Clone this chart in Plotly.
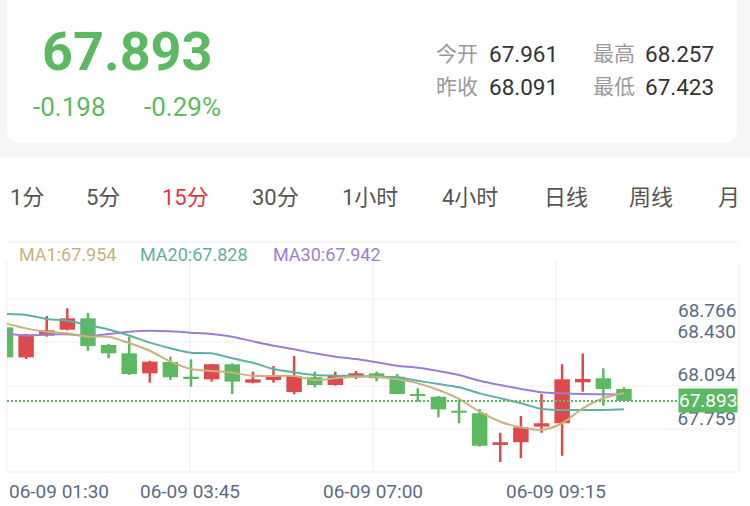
import plotly.graph_objects as go

# ---------------- data ----------------
date = "06-09"
times = ["01:30", "01:45", "02:00", "02:15", "02:30", "02:45", "03:00", "03:15",
         "03:30", "03:45", "04:00", "04:15", "04:30", "04:45", "06:00", "06:15",
         "06:30", "06:45", "07:00", "07:15", "07:30", "07:45", "08:00", "08:15",
         "08:30", "08:45", "09:00", "09:15", "09:30", "09:45", "10:00"]

opens = [68.459, 68.228, 68.395, 68.441, 68.528, 68.323, 68.259, 68.105, 68.192, 68.079,
         68.059, 68.175, 68.033, 68.054, 67.961, 68.075, 68.015, 68.075, 68.105, 68.079,
         67.946, 67.925, 67.818, 67.798, 67.554, 67.575, 67.695, 67.721, 68.036, 68.067,
         67.985]
highs = [68.469, 68.408, 68.546, 68.605, 68.571, 68.331, 68.387, 68.202, 68.233, 68.213,
         68.177, 68.182, 68.118, 68.161, 68.238, 68.118, 68.118, 68.123, 68.118, 68.100,
         67.990, 67.931, 67.905, 67.831, 67.648, 67.777, 67.946, 68.175, 68.257, 68.144,
         67.998]
lows = [68.219, 68.215, 68.387, 68.436, 68.279, 68.221, 68.092, 68.033, 68.054, 68.002,
        68.041, 67.946, 68.028, 68.033, 67.944, 67.998, 68.010, 68.062, 68.044, 67.944,
        67.887, 67.767, 67.721, 67.541, 67.423, 67.452, 67.648, 67.471, 67.964, 67.856,
        67.893]
closes = [68.228, 68.405, 68.436, 68.528, 68.315, 68.259, 68.100, 68.195, 68.075, 68.064,
          68.175, 68.041, 68.059, 68.091, 68.085, 68.015, 68.092, 68.105, 68.067, 67.946,
          67.931, 67.828, 67.802, 67.548, 67.575, 67.690, 67.721, 68.059, 68.062, 67.985,
          67.893]

ma1 = [68.490, 68.451, 68.425, 68.413, 68.387, 68.387, 68.338, 68.279, 68.195, 68.138,
       68.123, 68.110, 68.085, 68.085, 68.085, 68.054, 68.067, 68.079, 68.079, 68.059,
       68.028, 67.977, 67.908, 67.810, 67.733, 67.690, 67.669, 67.721, 67.836, 67.913,
       67.954]
ma20 = [68.561, 68.554, 68.523, 68.510, 68.477, 68.442, 68.396, 68.341, 68.298, 68.264,
        68.259, 68.221, 68.187, 68.138, 68.113, 68.092, 68.087, 68.085, 68.079, 68.075,
        68.048, 68.023, 67.998, 67.951, 67.913, 67.875, 67.831, 67.823, 67.823, 67.823,
        67.828]
ma30 = [68.413, 68.395, 68.405, 68.405, 68.392, 68.408, 68.425, 68.433, 68.428, 68.418,
        68.408, 68.387, 68.351, 68.318, 68.290, 68.259, 68.233, 68.215, 68.190, 68.164,
        68.148, 68.123, 68.092, 68.048, 68.015, 67.985, 67.959, 67.951, 67.946, 67.944,
        67.942]

y_ticks = [67.423, 67.759, 68.094, 68.430]
y_top_label = "68.766"
x_label_idx = [0, 9, 18, 27]

last_price = "67.893"
change = "-0.198"
change_pct = "-0.29%"
stats = [("今开", "67.961"), ("最高", "68.257"), ("昨收", "68.091"), ("最低", "67.423")]
tabs = ["1分", "5分", "15分", "30分", "1小时", "4小时", "日线", "周线", "月"]
active_tab = "15分"
legend_items = [("MA1", ma1[-1]), ("MA20", ma20[-1]), ("MA30", ma30[-1])]

# ---------------- styles ----------------
RED = "#dc4a4c"
GREEN = "#5cb962"
C_MA1 = "#c8b27e"
C_MA20 = "#5fb1a1"
C_MA30 = "#9c7fd0"
AXIS_TXT = "#5b6b86"
GRID = "#efefef"
FONT = "Roboto, 'Noto Sans CJK SC', sans-serif"

W, H = 750, 506
L, R, T, B = 7, 739, 261, 472


def px(x):
    return (x - L) / (R - L)


def py(y):
    return (B - y) / (B - T)


fig = go.Figure()

xs = list(range(len(opens)))
for color, is_up in ((RED, True), (GREEN, False)):
    idx = [i for i in xs if (closes[i] >= opens[i]) == is_up]
    wx, wy = [], []
    for i in idx:
        wx += [i, i, None]
        wy += [lows[i], highs[i], None]
    fig.add_trace(go.Scatter(x=wx, y=wy, mode="lines",
                             line=dict(color=color, width=2.5), hoverinfo="skip"))
    fig.add_trace(go.Bar(x=idx,
                         base=[min(opens[i], closes[i]) for i in idx],
                         y=[abs(closes[i] - opens[i]) for i in idx],
                         width=0.75, marker=dict(color=color, line=dict(width=0))))

for vals, col in ((ma30, C_MA30), (ma20, C_MA20), (ma1, C_MA1)):
    fig.add_trace(go.Scatter(x=xs, y=vals, mode="lines",
                             line=dict(color=col, width=2, shape="spline", smoothing=0.8),
                             hoverinfo="skip"))

shapes = []
# page background bands
shapes.append(dict(type="rect", xref="paper", yref="paper", x0=px(-5), x1=px(760),
                   y0=py(157), y1=py(-5), fillcolor="#f5f5f5", line_width=0, layer="below"))
x0c, x1c, yb, yt = px(7), px(737), py(143), py(-20)
rx, ry = 14 / (R - L), 14 / (B - T)
card = (f"M {x0c},{yt} L {x0c},{yb + ry} Q {x0c},{yb} {x0c + rx},{yb} "
        f"L {x1c - rx},{yb} Q {x1c},{yb} {x1c},{yb + ry} L {x1c},{yt} Z")
shapes.append(dict(type="path", xref="paper", yref="paper", path=card,
                   fillcolor="white", line_width=0, layer="below"))
# separator
shapes.append(dict(type="line", xref="paper", yref="paper", x0=px(7), x1=px(738),
                   y0=py(242), y1=py(242), line=dict(color="#f0f0f0", width=1.5), layer="below"))
# vertical grid
for k in range(5):
    shapes.append(dict(type="line", xref="x domain", yref="y domain", x0=k / 4, x1=k / 4,
                       y0=0, y1=1, line=dict(color=GRID, width=1), layer="below"))
# horizontal grid
for gy in (299, 342, 386, 429, 472):
    shapes.append(dict(type="line", xref="x domain", yref="y domain", x0=0, x1=1,
                       y0=py(gy), y1=py(gy), line=dict(color=GRID, width=1), layer="below"))
# last price dotted line
shapes.append(dict(type="line", xref="x domain", yref="y", x0=0, x1=px(680),
                   y0=float(last_price), y1=float(last_price),
                   line=dict(color=GREEN, width=2, dash="2px,2px")))

ann = []


def text(x, y, s, size, color, anchor="left", bold=False):
    ann.append(dict(x=px(x), y=py(y), xref="paper", yref="paper", text=(f"<b>{s}</b>" if bold else s),
                    showarrow=False, xanchor=anchor, yanchor="middle",
                    font=dict(family=FONT, size=size, color=color)))


# header
text(128, 51, last_price, 54, GREEN, "center", bold=True)
text(31, 107, change, 26, GREEN)
text(142, 107, change_pct, 26, GREEN)
pos = [(434, 487, 54), (591, 643, 54), (434, 487, 87), (591, 643, 87)]
for (lab, val), (lx, vx, yy) in zip(stats, pos):
    text(lx, yy, lab, 21, "#9a9a9a")
    text(vx, yy, val, 22.5, "#333333")

# tabs
tab_x = [8, 84, 160, 250, 340, 440, 542, 627, 716]
for t, tx in zip(tabs, tab_x):
    text(tx, 197, t, 22, "#e0383e" if t == active_tab else "#555555")

# legend
for (name, v), lx, col in zip(legend_items, (17, 138, 271), (C_MA1, C_MA20, C_MA30)):
    text(lx, 254, f"{name}:{v:.3f}", 18, col)

# top y label (clamped inside)
ann.append(dict(x=1, y=py(310), xref="paper", yref="paper", text=y_top_label, showarrow=False,
                xanchor="right", yanchor="middle", xshift=-1,
                font=dict(family=FONT, size=19, color=AXIS_TXT)))

# x labels
for k, i in enumerate(x_label_idx):
    ann.append(dict(x=k / 4, y=py(491), xref="x domain", yref="paper",
                    text=f"{date} {times[i]}", showarrow=False,
                    xanchor="left" if k == 0 else "center", yanchor="middle",
                    font=dict(family=FONT, size=19, color=AXIS_TXT)))

# price tag
ann.append(dict(x=1, y=float(last_price), xref="paper", yref="y", text=last_price,
                showarrow=False, xanchor="right", yanchor="middle", xshift=-1,
                bgcolor=GREEN, borderpad=0, font=dict(family=FONT, size=19, color="white")))

fig.update_layout(
    width=W, height=H,
    margin=dict(l=L, r=W - R, t=T, b=H - B, pad=0),
    paper_bgcolor="white", plot_bgcolor="white",
    barmode="overlay", showlegend=False,
    xaxis=dict(range=[0.073, 35.58], showgrid=False, zeroline=False, showticklabels=False,
               showline=False, ticks=""),
    yaxis=dict(range=[67.3461, 68.9692], side="right", tickvals=y_ticks,
               ticktext=[f"{v:.3f}" for v in y_ticks], ticklabelposition="inside",
               showgrid=False, zeroline=False, showline=False, ticks="",
               tickfont=dict(family=FONT, size=19, color=AXIS_TXT)),
    shapes=shapes, annotations=ann,
)

fig.write_html("out.html", config={"displayModeBar": False},
               post_script="document.body.style.margin='0';document.body.style.padding='0';")
